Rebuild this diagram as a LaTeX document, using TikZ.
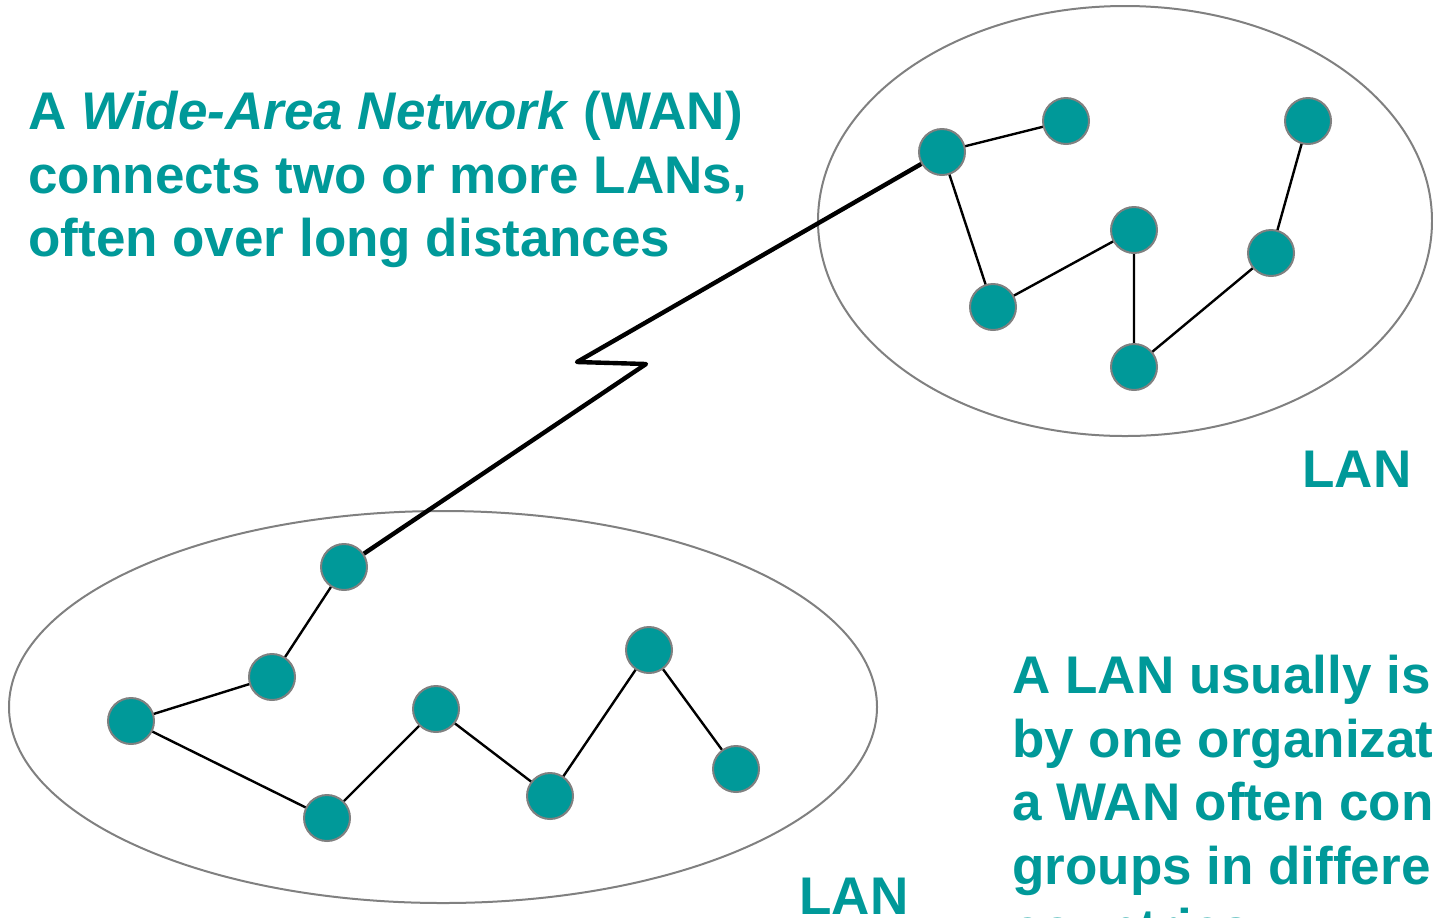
\documentclass[tikz,border=0pt]{standalone}
\usepackage{fontspec}
\setmainfont{Liberation Sans}
\definecolor{lanteal}{HTML}{009999}
\definecolor{rimgray}{HTML}{808080}

\begin{document}
\begin{tikzpicture}[x=0.5pt, y=-0.5pt,
    host/.style={fill=lanteal, draw=rimgray, line width=1pt},
    link/.style={line width=1.2pt},
    wan/.style={line width=2.2pt, line join=round},
    caption/.style={text=lanteal, font=\fontsize{26.5}{32}\selectfont\bfseries, anchor=base west, inner sep=0pt}]
    \clip (0,0) rectangle (1433,917);

    % the two LANs
    \draw[rimgray, line width=1pt] (1125,221) ellipse (307 and 215);
    \draw[rimgray, line width=1pt] (443,707) ellipse (434 and 196);

    % upper LAN
    \coordinate (a1) at (942,152);  \coordinate (a2) at (1066,121);
    \coordinate (a3) at (1308,121); \coordinate (a4) at (1134,230);
    \coordinate (a5) at (1271,253); \coordinate (a6) at (993,307);
    \coordinate (a7) at (1134,367);

    % lower LAN
    \coordinate (b1) at (344,567); \coordinate (b2) at (272,677);
    \coordinate (b3) at (131,721); \coordinate (b4) at (327,818);
    \coordinate (b5) at (436,709); \coordinate (b6) at (550,796);
    \coordinate (b7) at (649,650); \coordinate (b8) at (736,769);

    % bends of the WAN link
    \coordinate (z1) at (577,362); \coordinate (z2) at (646,364);

    \draw[link] (a2)--(a1)--(a6)--(a4)--(a7)--(a5)--(a3);
    \draw[link] (b1)--(b2)--(b3)--(b4)--(b5)--(b6)--(b7)--(b8);
    \draw[wan] (a1)--(z1)--(z2)--(b1);

    \foreach \h in {a1,a2,a3,a4,a5,a6,a7,b1,b2,b3,b4,b5,b6,b7,b8}
        \filldraw[host] (\h) circle (23);

    % texts
    \node[caption] (wan1) at (28,129) {A \textit{Wide-Area Network} (WAN)};
    \node[caption] (wan2) at (28,193) {connects two or more LANs,};
    \node[caption] (wan3) at (28,256) {often over long distances};

    \node[caption] (lanup) at (1302,487) {LAN};
    \node[caption] (lanlow) at (799,914) {LAN};

    \node[caption] (own1) at (1012,693) {A LAN usually is owned};
    \node[caption] (own2) at (1012,757) {by one organization, but};
    \node[caption] (own3) at (1012,820) {a WAN often connects};
    \node[caption] (own4) at (1012,884) {groups in different};
    \node[caption] (own5) at (1012,946) {countries.};
\end{tikzpicture}
\end{document}
